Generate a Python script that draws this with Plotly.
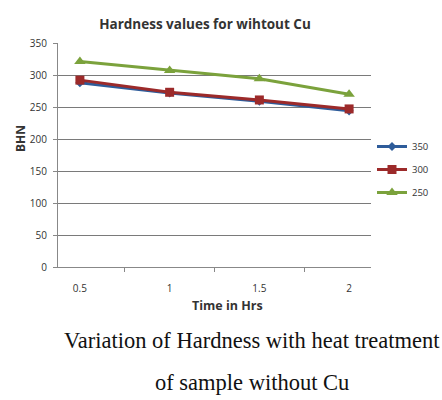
import plotly.graph_objects as go

times = ["0.5", "1", "1.5", "2"]
s350 = [288, 272, 259, 244]
s300 = [292, 273, 261, 247]
s250 = [321, 307, 294, 270]
series_names = ["350", "300", "250"]

W, H = 442, 400
L, R, T, B = 58, 71, 43, 133
PW, PH = W - L - R, H - T - B

fig = go.Figure()
fig.add_trace(go.Scatter(x=times, y=s350, name=series_names[0], legendgroup="a", mode="lines+markers",
                         line=dict(color="#2E5C9A", width=3),
                         marker=dict(symbol="diamond", size=7, color="#2E5C9A")))
fig.add_trace(go.Scatter(x=times, y=s300, name=series_names[1], legendgroup="b", mode="lines+markers",
                         line=dict(color="#9C2A2A", width=3),
                         marker=dict(symbol="square", size=9, color="#9C2A2A")))
fig.add_trace(go.Scatter(x=times, y=s250, name=series_names[2], legendgroup="c", mode="lines+markers",
                         line=dict(color="#7BA23C", width=3),
                         marker=dict(symbol="triangle-up", size=10, color="#7BA23C")))

sans = "Open Sans, Arial, sans-serif"
serif = "Liberation Serif, Times New Roman, serif"

fig.update_layout(
    width=W, height=H,
    margin=dict(l=L, r=R, t=T, b=B, autoexpand=False),
    paper_bgcolor="white", plot_bgcolor="white",
    font=dict(family=sans, color="#333", size=9),
    title=dict(text="Hardness values for wihtout Cu", x=205 / W, xanchor="center",
               y=1 - 24 / H, yanchor="middle",
               font=dict(size=13.5, color="#333", family=sans, weight="bold")),
    showlegend=True,
    legend=dict(xref="container", yref="container", x=372 / W, xanchor="left",
                y=1 - 132 / H, yanchor="top",
                font=dict(size=9.5, color="#333"), tracegroupgap=4,
                itemwidth=30, bgcolor="rgba(0,0,0,0)"),
    xaxis=dict(type="category", showgrid=False, showline=True, linecolor="#888",
               ticks="outside", tickson="boundaries", ticklen=4, tickcolor="#888",
               tickfont=dict(size=10, color="#333"), ticklabelstandoff=12),
    yaxis=dict(range=[0, 350], dtick=50, showgrid=True, gridcolor="#7a7a7a", gridwidth=1,
               showline=True, linecolor="#888", ticks="outside", ticklen=4, tickcolor="#888",
               tickfont=dict(size=10, color="#333"), zeroline=False, ticklabelstandoff=4),
)

fig.add_annotation(text="Time in Hrs", xref="paper", yref="paper",
                   x=(227 - L) / PW, y=-(305 - (H - B)) / PH,
                   xanchor="center", yanchor="middle", showarrow=False,
                   font=dict(size=12.5, color="#333", weight="bold"))
fig.add_annotation(text="BHN", xref="paper", yref="paper", x=-(L - 20) / PW,
                   y=(H - B - 139) / PH, textangle=-90,
                   xanchor="center", yanchor="middle", showarrow=False,
                   font=dict(size=12, color="#333", weight="bold"))
fig.add_annotation(text="Variation of Hardness with heat treatment", xref="paper", yref="paper",
                   x=(252 - L) / PW, y=-(340 - (H - B)) / PH,
                   xanchor="center", yanchor="middle", showarrow=False,
                   font=dict(family=serif, size=22.5, color="#111"))
fig.add_annotation(text="of sample without Cu", xref="paper", yref="paper",
                   x=(252 - L) / PW, y=-(382 - (H - B)) / PH,
                   xanchor="center", yanchor="middle", showarrow=False,
                   font=dict(family=serif, size=22.5, color="#111"))

fig.write_html("out.html")
